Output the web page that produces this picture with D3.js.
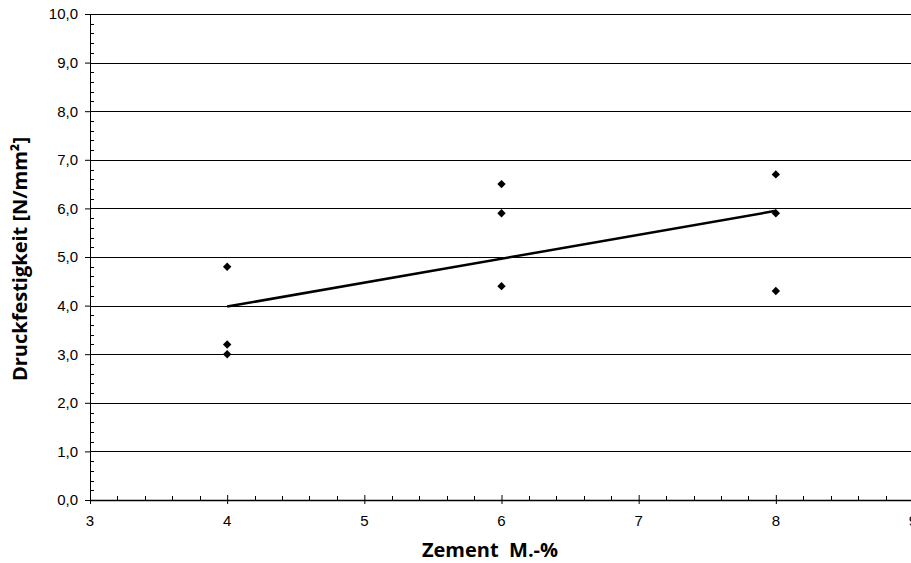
<!DOCTYPE html>
<html>
<head>
<meta charset="utf-8">
<script src="https://cdn.jsdelivr.net/npm/d3@7"></script>
<style>
  body { margin: 0; background: #fff; }
  svg { display: block; }
</style>
</head>
<body>
<div id="chart"></div>
<script>
// data
var zement = [4, 4, 4, 6, 6, 6, 8, 8, 8];
var festigkeit = [4.8, 3.2, 3.0, 6.5, 5.9, 4.4, 6.7, 5.9, 4.3];
var trendX = [4, 8];
var trendY = [3.98, 5.95];
var yTicks = [0, 1, 2, 3, 4, 5, 6, 7, 8, 9, 10];
var xTicks = [3, 4, 5, 6, 7, 8, 9];

var svgWidth = 911, svgHeight = 563;
var margin = { top: 14, right: -2, bottom: 63, left: 90 };
var width = svgWidth - margin.left - margin.right;
var height = svgHeight - margin.top - margin.bottom;

var svg = d3.select('#chart').append('svg')
  .attr('width', svgWidth)
  .attr('height', svgHeight);

var chartGroup = svg.append('g')
  .attr('transform', `translate(${margin.left}, ${margin.top})`);

var x = d3.scaleLinear().domain([3, 9]).range([0, width]);
var y = d3.scaleLinear().domain([0, 10]).range([height, 0]);

// gridlines
chartGroup.selectAll('.grid')
  .data(yTicks.filter(d => d > 0))
  .enter().append('line')
  .attr('x1', 0).attr('x2', width + 5)
  .attr('y1', d => Math.round(y(d)) + 0.5).attr('y2', d => Math.round(y(d)) + 0.5)
  .attr('stroke', '#000').attr('stroke-width', 1);

// minor ticks on y (inside)
var yMinor = d3.range(0, 10.01, 0.2).filter(d => Math.abs(d - Math.round(d)) > 0.01);
chartGroup.selectAll('.yminor')
  .data(yMinor)
  .enter().append('line')
  .attr('x1', 0).attr('x2', 4)
  .attr('y1', d => Math.round(y(d)) + 0.5).attr('y2', d => Math.round(y(d)) + 0.5)
  .attr('stroke', '#000');

// minor ticks on x (inside)
var xMinor = d3.range(3, 9.01, 0.2).filter(d => Math.abs(d - Math.round(d)) > 0.01);
chartGroup.selectAll('.xminor')
  .data(xMinor)
  .enter().append('line')
  .attr('x1', d => Math.round(x(d)) + 0.5).attr('x2', d => Math.round(x(d)) + 0.5)
  .attr('y1', height).attr('y2', height - 4)
  .attr('stroke', '#000');

// axis lines and ticks (labels are drawn separately)
var leftAxis = d3.axisLeft(y).tickValues(yTicks).tickSize(5).tickFormat('');
var yAxis = chartGroup.append('g').call(leftAxis);
yAxis.select('.domain').attr('d', `M0.5,${height}V0`);

var bottomAxis = d3.axisBottom(x).tickValues(xTicks).tickSize(4).tickFormat('');
var xAxis = chartGroup.append('g')
  .attr('transform', `translate(0, ${height})`)
  .call(bottomAxis);
xAxis.select('.domain').attr('d', `M0,0.5H${width + 5}`).attr('stroke-width', 1.5);
xAxis.selectAll('.tick line').attr('y1', -5);

// tick labels
chartGroup.selectAll('.ylab')
  .data(yTicks)
  .enter().append('text')
  .attr('x', -12)
  .attr('y', d => y(d))
  .attr('dy', '0.36em')
  .attr('text-anchor', 'end')
  .style('font', '15px "Liberation Sans", Arial, sans-serif')
  .text(d => d3.format('.1f')(d).replace('.', ','));

chartGroup.selectAll('.xlab')
  .data(xTicks)
  .enter().append('text')
  .attr('x', d => x(d))
  .attr('y', height + 26)
  .attr('text-anchor', 'middle')
  .style('font', '15px "Liberation Sans", Arial, sans-serif')
  .text(d => d);

// trend line
var line = d3.line().x(d => x(d[0])).y(d => y(d[1]));
chartGroup.append('path')
  .datum(trendX.map((d, i) => [d, trendY[i]]))
  .attr('d', line)
  .attr('fill', 'none')
  .attr('stroke', '#000')
  .attr('stroke-width', 2.5);

// points
var diamond = d3.symbol().type(d3.symbolDiamond2).size(45);
chartGroup.selectAll('.pt')
  .data(zement.map((d, i) => [d, festigkeit[i]]))
  .enter().append('path')
  .attr('d', diamond)
  .attr('transform', d => `translate(${x(d[0])}, ${y(d[1])})`)
  .attr('fill', '#000');

// axis titles
svg.append('text')
  .attr('x', 490).attr('y', 557)
  .attr('text-anchor', 'middle')
  .attr('font-family', 'Open Sans, Noto Sans, sans-serif')
  .attr('font-weight', 'bold')
  .attr('font-size', 20)
  .style('white-space', 'pre')
  .text('Zement  M.-%');

svg.append('text')
  .attr('transform', 'translate(27, 259) rotate(-90)')
  .attr('text-anchor', 'middle')
  .attr('font-family', 'Open Sans, Noto Sans, sans-serif')
  .attr('font-weight', 'bold')
  .attr('font-size', 20)
  .text('Druckfestigkeit [N/mm²]');
</script>
</body>
</html>
